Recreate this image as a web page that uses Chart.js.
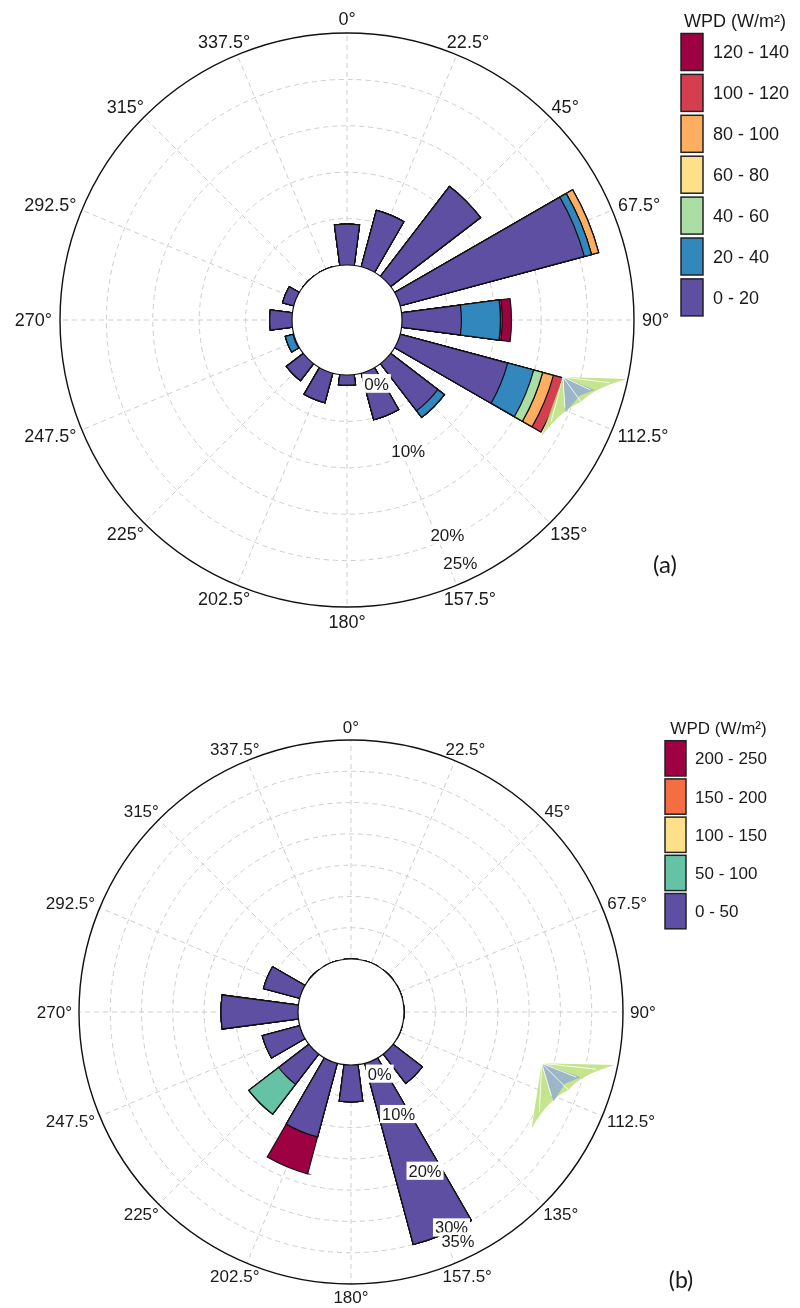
<!DOCTYPE html>
<html>
<head>
<meta charset="utf-8">
<title>Wind power density roses</title>
<script src="https://cdn.jsdelivr.net/npm/chart.js@4.4.1/dist/chart.umd.min.js"></script>
<style>
  html, body { margin: 0; padding: 0; background: #fff; width: 800px; height: 1308px; overflow: hidden; }
  canvas { position: absolute; left: 0; }
  #roseA { top: 0; }
  #roseB { top: 654px; }
</style>
</head>
<body>
<canvas id="roseA" width="800" height="654"></canvas>
<canvas id="roseB" width="800" height="654"></canvas>
<script>
// ---- Wind directions (degrees, clockwise from north) ----
const directions = [0, 22.5, 45, 67.5, 90, 112.5, 135, 157.5, 180, 202.5, 225, 247.5, 270, 292.5, 315, 337.5];
const directionLabels = ['0°', '22.5°', '45°', '67.5°', '90°', '112.5°', '135°', '157.5°',
                         '180°', '202.5°', '225°', '247.5°', '270°', '292.5°', '315°', '337.5°'];

// ---- Panel (a): frequency (%) per direction and WPD class ----
const binsA = ['0 - 20', '20 - 40', '40 - 60', '60 - 80', '80 - 100', '100 - 120', '120 - 140'];
const coloursA = ['#5E4FA2', '#3288BD', '#ABDDA4', '#FEE08B', '#FDAE61', '#D53E4F', '#9E0142'];
const wpdA_0_20    = [4.4, 6.3, 12.2, 20.55, 6.4, 12.0, 6.4, 5.2, 1.1, 3.3, 2.3, 0.1, 2.4, 1.25, 0, 0];
const wpdA_20_40   = [0, 0, 0, 0.8, 4.2, 2.9, 0.9, 0, 0, 0, 0, 0.85, 0, 0, 0, 0];
const wpdA_40_60   = [0, 0, 0, 0, 0, 1.0, 0, 0, 0, 0, 0, 0, 0, 0, 0, 0];
const wpdA_60_80   = [0, 0, 0, 0, 0, 0, 0, 0, 0, 0, 0, 0, 0, 0, 0, 0];
const wpdA_80_100  = [0, 0, 0, 0.8, 0, 1.2, 0, 0, 0, 0, 0, 0, 0, 0, 0, 0];
const wpdA_100_120 = [0, 0, 0, 0, 0.2, 1.1, 0, 0, 0, 0, 0, 0, 0, 0, 0, 0];
const wpdA_120_140 = [0, 0, 0, 0, 1.0, 0, 0, 0, 0, 0, 0, 0, 0, 0, 0, 0];
const radialTicksA = [0, 10, 20, 25];
const radialMaxA = 25;

// ---- Panel (b) ----
const binsB = ['0 - 50', '50 - 100', '100 - 150', '150 - 200', '200 - 250'];
const coloursB = ['#5E4FA2', '#66C2A5', '#FEE08B', '#F46D43', '#9E0142'];
const wpdB_0_50    = [0, 0, 0, 0, 0, 0, 5.9, 30.0, 5.9, 12.2, 6.1, 6.2, 12.3, 6.0, 0, 0];
const wpdB_50_100  = [0, 0, 0, 0, 0, 0, 0, 0, 0, 0, 6.0, 0, 0, 0, 0, 0];
const wpdB_100_150 = [0, 0, 0, 0, 0, 0, 0, 0, 0, 0, 0, 0, 0, 0, 0, 0];
const wpdB_150_200 = [0, 0, 0, 0, 0, 0, 0, 0, 0, 0, 0, 0, 0, 0, 0, 0];
const wpdB_200_250 = [0, 0, 0, 0, 0, 0, 0, 0, 0, 6.1, 0, 0, 0, 0, 0, 0];
const radialTicksB = [0, 10, 20, 30, 35];
const radialMaxB = 35;

const FONT = '"Liberation Sans", Arial, sans-serif';
const BAR_ANGLE = 15;     // angular width of each direction bar
const GAP_ANGLE = 7.5;    // empty sector between neighbouring bars

// Small wind-vane mark drawn in the free area of each panel
function drawVane(ctx, g) {
  const P = (s, t) => [
    g.v[0] + s * (g.r[0] - g.v[0]) + t * (g.b[0] - g.v[0]),
    g.v[1] + s * (g.r[1] - g.v[1]) + t * (g.b[1] - g.v[1])
  ];
  const M = P(0.42, 0.4);
  ctx.save();
  ctx.fillStyle = 'rgba(190,225,130,0.9)';
  ctx.beginPath();
  ctx.moveTo(...P(0, 0)); ctx.lineTo(...P(1, 0));
  ctx.quadraticCurveTo(...P(0.55, 0.16), ...M); ctx.closePath(); ctx.fill();
  ctx.beginPath();
  ctx.moveTo(...P(0, 0)); ctx.lineTo(...P(0, 1));
  ctx.quadraticCurveTo(...P(0.16, 0.55), ...M); ctx.closePath(); ctx.fill();
  ctx.fillStyle = 'rgba(150,178,204,0.92)';
  ctx.beginPath();
  ctx.moveTo(...P(0, 0)); ctx.lineTo(...P(0.56, 0.2)); ctx.lineTo(...P(0.36, 0.3));
  ctx.lineTo(...P(0.24, 0.58)); ctx.closePath(); ctx.fill();
  ctx.strokeStyle = 'rgba(255,255,255,0.85)';
  ctx.lineWidth = 1;
  [[0.42, 0.4], [0.75, 0.07], [0.07, 0.75], [0.5, 0.2], [0.2, 0.5]].forEach(p => {
    ctx.beginPath(); ctx.moveTo(...P(0, 0)); ctx.lineTo(...P(p[0], p[1])); ctx.stroke();
  });
  ctx.restore();
}

function rosePlugin(s) {
  return {
    id: 'roseDecor',
    beforeDatasetsDraw(chart) {
      const sc = chart.scales.r, ctx = chart.ctx;
      const cx = sc.xCenter, cy = sc.yCenter, R = sc.drawingArea;
      ctx.save();
      ctx.strokeStyle = '#cdcdcd';
      ctx.lineWidth = 1;
      ctx.setLineDash([5, 4]);
      for (let v = s.ringStep; v < s.max - 1e-6; v += s.ringStep) {
        const r = sc.getDistanceFromCenterForValue(v);
        ctx.beginPath(); ctx.arc(cx, cy, r, 0, Math.PI * 2); ctx.stroke();
      }
      directions.forEach(d => {
        const a = d * Math.PI / 180;
        ctx.beginPath();
        ctx.moveTo(cx, cy);
        ctx.lineTo(cx + R * Math.sin(a), cy - R * Math.cos(a));
        ctx.stroke();
      });
      ctx.setLineDash([]);
      ctx.strokeStyle = '#111';
      ctx.lineWidth = 1.4;
      ctx.beginPath(); ctx.arc(cx, cy, R, 0, Math.PI * 2); ctx.stroke();
      ctx.restore();
    },
    afterDatasetsDraw(chart) {
      const sc = chart.scales.r, ctx = chart.ctx;
      const cx = sc.xCenter, cy = sc.yCenter, R = sc.drawingArea;
      ctx.save();

      // hollow centre
      const h = sc.getDistanceFromCenterForValue(0);
      ctx.fillStyle = '#fff';
      ctx.strokeStyle = '#111';
      ctx.lineWidth = 1.2;
      ctx.beginPath(); ctx.arc(cx, cy, h, 0, Math.PI * 2); ctx.fill(); ctx.stroke();

      drawVane(ctx, s.vane);

      // percentage labels along one radius
      ctx.font = s.tickFont + 'px ' + FONT;
      ctx.textAlign = 'center';
      ctx.textBaseline = 'alphabetic';
      const ta = s.tickAngle * Math.PI / 180;
      const last = s.ticks.length - 1;
      s.ticks.forEach((v, i) => {
        const r = sc.getDistanceFromCenterForValue(v) + (i === 0 ? 15 : i === last ? -19 : -3);
        const x = cx + r * Math.sin(ta), y = cy - r * Math.cos(ta);
        const txt = v + '%';
        const w = ctx.measureText(txt).width;
        ctx.fillStyle = '#fff';
        ctx.fillRect(x - w / 2 - 2, y - s.tickFont * 0.55, w + 4, s.tickFont * 1.1);
        ctx.fillStyle = '#1a1a1a';
        ctx.fillText(txt, x, y + s.tickFont * 0.36);
      });

      // direction labels around the rim
      ctx.font = s.angleFont + 'px ' + FONT;
      ctx.fillStyle = '#1a1a1a';
      directions.forEach((d, i) => {
        const a = d * Math.PI / 180, sn = Math.sin(a), cs = Math.cos(a);
        const txt = directionLabels[i];
        const w = ctx.measureText(txt).width, th = s.angleFont * 0.72;
        const x = cx + (R + s.angleGap) * sn + sn * w / 2;
        const y = cy - (R + s.angleGap) * cs - cs * th / 2;
        ctx.fillText(txt, x, y + s.angleFont * 0.36);
      });

      // legend
      const L = s.legend;
      ctx.font = L.font + 'px ' + FONT;
      ctx.fillStyle = '#1a1a1a';
      ctx.textAlign = 'center';
      ctx.fillText('WPD (W/m²)', L.titleX, L.titleY + L.font * 0.36);
      ctx.textAlign = 'left';
      const n = s.bins.length;
      for (let j = 0; j < n; j++) {
        const k = n - 1 - j;
        const top = L.top + j * L.pitch;
        ctx.fillStyle = s.colours[k];
        ctx.fillRect(L.boxX, top, L.boxW, L.boxH);
        ctx.strokeStyle = '#222';
        ctx.lineWidth = 1.5;
        ctx.strokeRect(L.boxX, top, L.boxW, L.boxH);
        ctx.fillStyle = '#1a1a1a';
        ctx.fillText(s.bins[k], L.textX, top + L.boxH / 2 + L.font * 0.36);
      }

      // panel tag
      ctx.font = s.tag.font + 'px Lato, ' + FONT;
      ctx.textAlign = 'center';
      ctx.fillStyle = '#1a1a1a';
      ctx.fillText(s.tag.text, s.tag.x, s.tag.y + s.tag.font * 0.36);
      ctx.restore();
    }
  };
}

function makeRose(id, s) {
  const holeMin = -s.hole * s.max / (1 - s.hole);
  // cumulative totals so each class is stacked on the previous ones
  const cumulative = [];
  s.series.forEach((arr, k) => {
    cumulative.push(arr.map((v, d) => v + (k ? cumulative[k - 1][d] : 0)));
  });
  const labels = [];
  directionLabels.forEach(l => { labels.push(l); labels.push(''); });
  const datasets = cumulative.map((cum, k) => {
    const data = [];
    cum.forEach(v => { data.push(v); data.push(holeMin); });
    return {
      label: s.bins[k],
      data,
      backgroundColor: ctx => (ctx.dataIndex % 2 ? 'rgba(0,0,0,0)' : s.colours[k]),
      borderColor: '#111',
      borderWidth: ctx => (ctx.dataIndex % 2 ? 0 : 1.2),
      borderJoinStyle: 'miter',
      angle: ctx => (ctx.dataIndex % 2 ? GAP_ANGLE : BAR_ANGLE)
    };
  });
  return new Chart(document.getElementById(id), {
    type: 'polarArea',
    data: { labels, datasets },
    options: {
      responsive: false,
      animation: false,
      events: [],
      layout: { padding: s.padding },
      plugins: { legend: { display: false }, tooltip: { enabled: false } },
      scales: {
        r: { display: false, min: holeMin, max: s.max, startAngle: -BAR_ANGLE / 2 }
      }
    },
    plugins: [rosePlugin(s)]
  });
}

makeRose('roseA', {
  bins: binsA, colours: coloursA,
  series: [wpdA_0_20, wpdA_20_40, wpdA_40_60, wpdA_60_80, wpdA_80_100, wpdA_100_120, wpdA_120_140],
  max: radialMaxA, ticks: radialTicksA, ringStep: 5, hole: 55 / 287,
  padding: { left: 60, top: 33, right: 166, bottom: 47 },
  tickAngle: 155, tickFont: 17, angleFont: 18, angleGap: 8,
  legend: { font: 18, titleX: 735, titleY: 21, boxX: 681, boxW: 22, boxH: 37, top: 33.5, pitch: 40.9, textX: 713 },
  tag: { text: '(a)', x: 665, y: 564, font: 24 },
  vane: { v: [563, 377], r: [627, 379], b: [541, 437] }
});

makeRose('roseB', {
  bins: binsB, colours: coloursB,
  series: [wpdB_0_50, wpdB_50_100, wpdB_100_150, wpdB_150_200, wpdB_200_250],
  max: radialMaxB, ticks: radialTicksB, ringStep: 5, hole: 53 / 272,
  padding: { left: 79, top: 86, right: 177, bottom: 24 },
  tickAngle: 155, tickFont: 16.5, angleFont: 17, angleGap: 7,
  legend: { font: 17, titleX: 718.5, titleY: 74, boxX: 665, boxW: 21, boxH: 35.3, top: 86.7, pitch: 38.2, textX: 695 },
  tag: { text: '(b)', x: 681, y: 626, font: 23 },
  vane: { v: [541.7, 409.3], r: [615, 411], b: [531.7, 474.3] }
});
</script>
</body>
</html>
